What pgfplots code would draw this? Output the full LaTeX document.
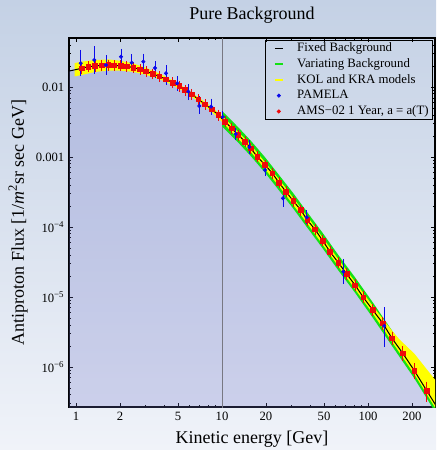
\documentclass[border=0pt]{standalone}
\usepackage{fontspec}
\setmainfont{Liberation Serif}
\usepackage{pgfplots}
\usepackage{pgfplotstable}
\pgfplotsset{compat=1.18}
\usetikzlibrary{backgrounds,calc}
\definecolor{bgtop}{RGB}{196,209,229}
\definecolor{bgbot}{RGB}{240,243,249}
\definecolor{fillc}{RGB}{110,115,200}
\definecolor{grn}{RGB}{20,225,20}
\definecolor{ylw}{RGB}{255,255,0}
\definecolor{pblue}{RGB}{10,10,235}
\definecolor{ared}{RGB}{240,10,10}
\definecolor{vline}{RGB}{120,120,130}

\pgfplotstableread{
x y
0.88 0.01675
1.094 0.01849
1.214 0.01950
1.349 0.01995
1.500 0.0204
1.664 0.0206
1.821 0.0204
2.024 0.0201
2.225 0.0198
2.469 0.0189
2.744 0.0179
3.017 0.01675
3.353 0.01535
3.721 0.01422
4.134 0.01288
4.596 0.01152
5.10 0.01033
5.58 0.00906
6.20 0.00787
6.88 0.00667
7.65 0.00566
8.50 0.00480
9.43 0.00398
10.48 0.00319
11.65 0.00257
12.93 0.00206
14.37 0.00166
15.73 0.00133
17.45 0.00101
19.71 7.69e-4
22.11 5.85e-4
24.57 4.30e-4
27.44 3.19e-4
30.79 2.35e-4
34.59 1.75e-4
38.39 1.259e-4
43.35 9.21e-5
48.95 6.37e-5
54.92 4.44e-5
62.60 3.09e-5
71.46 2.13e-5
81.47 1.48e-5
92.87 9.90e-6
107.7 6.52e-6
126.1 4.21e-6
146.0 2.57e-6
172.9 1.57e-6
207.6 8.85e-7
252.5 4.58e-7
300 2.57e-7
}\curvetab

\pgfplotstableread{
x y r
1.094 0.01849 0.09
1.214 0.01950 0.09
1.349 0.01995 0.09
1.500 0.0204 0.09
1.664 0.0206 0.09
1.821 0.0204 0.09
2.024 0.0201 0.09
2.225 0.0198 0.09
2.469 0.0189 0.09
2.744 0.0179 0.09
3.017 0.01675 0.09
3.353 0.01535 0.09
3.721 0.01422 0.09
4.134 0.01288 0.09
4.596 0.01152 0.09
5.10 0.01033 0.09
5.58 0.00906 0.09
6.20 0.00787 0.09
6.88 0.00667 0.09
7.65 0.00566 0.09
8.50 0.00480 0.09
9.43 0.00398 0.09
10.48 0.00319 0.09
11.65 0.00257 0.09
12.93 0.00206 0.09
14.37 0.00166 0.09
15.73 0.00133 0.09
17.45 0.00101 0.09
19.71 7.69e-4 0.09
22.11 5.85e-4 0.09
24.57 4.30e-4 0.09
27.44 3.19e-4 0.09
30.79 2.35e-4 0.09
34.59 1.75e-4 0.09
38.39 1.259e-4 0.09
43.35 9.21e-5 0.09
48.95 6.37e-5 0.09
54.92 4.44e-5 0.09
62.60 3.09e-5 0.09
71.46 2.13e-5 0.10
81.47 1.48e-5 0.11
92.87 9.90e-6 0.11
107.7 6.52e-6 0.11
126.1 4.21e-6 0.12
146.0 2.57e-6 0.13
172.9 1.57e-6 0.15
207.6 8.85e-7 0.18
252.5 4.58e-7 0.24
}\amstab

\pgfplotstableread{
x y ep em
1.077 0.02183 0.00907 0.00613
1.335 0.0243 0.0103 0.0072
1.605 0.0206 0.0051 0.00405
2.033 0.0271 0.0048 0.0041
2.407 0.0222 0.0044 0.0031
2.891 0.0230 0.0041 0.0035
3.476 0.0187 0.0026 0.0039
4.134 0.0157 0.0028 0.0038
4.94 0.01130 0.0016 0.00172
5.88 0.00857 0.00133 0.00144
6.99 0.00535 0.00132 0.00077
8.41 0.00524 0.00093 0.0008
10.11 0.00373 0.00038 0.00027
12.41 0.00213 0.00025 0.00022
15.38 0.00139 0.00021 0.00017
19.71 6.52e-4 7.4e-5 6.7e-5
26.17 2.57e-4 4.6e-5 4.4e-5
38.02 1.377e-4 1.93e-5 1.47e-5
67.72 2.30e-5 8.9e-6 6.1e-6
129.3 3.85e-6 2.67e-6 1.72e-6
}\pamtab

\begin{document}
\begin{tikzpicture}
\begin{axis}[name=ax, scale only axis, width=274.5pt, height=276.75pt,
  xmode=log, ymode=log,
  xmin=0.8956, xmax=287.6, ymin=2.68e-7, ymax=0.0501,
  xtick={1,2,5,10,20,50,100,200},
  xticklabels={1,2,5,10,20,50,100,200},
  minor xtick={3,4,6,7,8,9,30,40,60,70,80,90},
  ytick={1e-6,1e-5,1e-4,1e-3,1e-2},
  yticklabels={10\textsuperscript{−6},10\textsuperscript{−5},10\textsuperscript{−4},0.001,0.01},
  minor ytick={3e-7,4e-7,5e-7,6e-7,7e-7,8e-7,9e-7,
    2e-6,3e-6,4e-6,5e-6,6e-6,7e-6,8e-6,9e-6,
    2e-5,3e-5,4e-5,5e-5,6e-5,7e-5,8e-5,9e-5,
    2e-4,3e-4,4e-4,5e-4,6e-4,7e-4,8e-4,9e-4,
    2e-3,3e-3,4e-3,5e-3,6e-3,7e-3,8e-3,9e-3,
    2e-2,3e-2,4e-2},
  tick label style={font=\fontsize{9.5}{11}\selectfont},
  major tick length=3pt, minor tick length=1.6pt,
  every tick/.style={black, line width=0.5pt},
  axis line style={black, line width=0.8pt},
  title={Pure Background},
  title style={at={(axis description cs:0.5,1.0488)}, anchor=base, yshift=-6pt, font=\fontsize{13.5}{16}\selectfont},
  xlabel={Kinetic energy [Gev]},
  xlabel style={at={(axis description cs:0.5,-0.0976)}, anchor=base, font=\fontsize{13.5}{16}\selectfont},
  ylabel={Antiproton Flux [1/\textit{m}\textsuperscript{2}sr sec GeV]},
  ylabel style={at={(axis description cs:-0.1393,0.5)}, anchor=center, font=\fontsize{13.5}{16}\selectfont},
  legend cell align=left,
  legend style={at={(axis description cs:0.9945,0.9946)}, anchor=north east,
    draw=black, line width=0.6pt, fill=none, inner xsep=2pt, inner ysep=0.4pt,
    row sep=0.85pt, font=\fontsize{9.6}{11}\selectfont,
    nodes={inner sep=1pt, text height=7pt, text depth=2pt}},
]
% filled area under the curve
\addplot[forget plot, draw=none, fill=fillc, fill opacity=0.25] coordinates {
(0.88,0.01675) (1.094,0.01849) (1.349,0.01995) (1.664,0.0206) (2.024,0.0201) (2.469,0.0189)
(3.017,0.01675) (3.721,0.01422) (4.596,0.01152) (5.58,0.00906) (6.88,0.00667) (8.50,0.00480)
(10.48,0.00319) (12.93,0.00206) (15.73,0.00133) (19.71,7.69e-4) (24.57,4.30e-4) (30.79,2.35e-4)
(38.39,1.259e-4) (48.95,6.37e-5) (62.60,3.09e-5) (81.47,1.48e-5) (107.7,6.52e-6) (146.0,2.57e-6)
(207.6,8.85e-7) (252.5,4.58e-7) (300,2.57e-7) (300,1e-8) (0.88,1e-8)} -- cycle;
% vertical line at 10 GeV
\addplot[forget plot, color=vline, line width=0.6pt] coordinates {(10,1e-8) (10,1)};
% green band (variating background)
\addplot[forget plot, draw=none, fill=grn] coordinates {
(10,4.54e-3) (12.93,2.655e-3) (15.73,1.714e-3) (19.71,9.91e-4) (24.57,5.53e-4) (30.79,3.03e-4)
(38.39,1.622e-4) (48.95,8.20e-5) (62.60,3.98e-5) (81.47,1.910e-5) (107.7,8.39e-6) (146.0,3.31e-6)
(207.6,1.140e-6) (300,3.31e-7)
(300,2.00e-7) (207.6,6.87e-7) (146.0,2.00e-6) (107.7,5.06e-6) (81.47,1.151e-5) (62.60,2.40e-5)
(48.95,4.94e-5) (38.39,9.77e-5) (30.79,1.824e-4) (24.57,3.33e-4) (19.71,5.97e-4) (15.73,1.033e-3)
(12.93,1.600e-3) (10,2.735e-3)} -- cycle;
% yellow band (KOL and KRA)
\addplot[forget plot, draw=none, fill=ylw] coordinates {
(0.98,0.02193) (1.094,0.02301) (1.349,0.02427) (1.664,0.02477) (2.024,0.02366) (2.469,0.02168)
(3.017,0.01879) (3.721,0.01560) (4.596,0.01247) (5.58,0.00971) (6.88,0.00714) (8.50,0.00520)
(10.48,0.00354) (15.73,0.001493) (24.57,4.82e-4) (38.39,1.413e-4) (62.60,3.47e-5) (107.7,7.48e-6)
(146.0,3.30e-6) (165,2.45e-6) (207.6,1.55e-6) (300,5.9e-7)
(300,2.29e-7) (207.6,7.89e-7) (146.0,2.29e-6) (107.7,5.81e-6) (62.60,2.75e-5) (38.39,1.122e-4)
(24.57,3.83e-4) (15.73,1.186e-3) (10.48,2.88e-3) (8.50,4.43e-3) (6.88,6.22e-3) (5.58,8.45e-3)
(4.596,0.01062) (3.721,0.01297) (3.017,0.01493) (2.469,0.01644) (2.024,0.01714) (1.664,0.01714)
(1.349,0.01641) (1.094,0.01486) (0.98,0.01416)} -- cycle;
% fixed background curve
\addplot[forget plot, black, line width=0.75pt, smooth, tension=0.3] table[x=x,y=y] {\curvetab};
% AMS-02
\addplot[forget plot, only marks, mark=square*, mark size=1.7pt, color=ared,
  error bars/.cd, y dir=both, y explicit relative,
  error bar style={line width=0.7pt, ared},
  error mark=-, error mark options={mark size=2pt, line width=0.7pt, ared}]
  table[x=x, y=y, y error=r] {\amstab};
% PAMELA
\addplot[forget plot, only marks, mark=*, mark size=1.3pt, color=pblue,
  error bars/.cd, y dir=both, y explicit,
  error bar style={line width=0.7pt, pblue},
  error mark=-, error mark options={mark size=2.2pt, line width=0.7pt, pblue}]
  table[x=x, y=y, y error plus=ep, y error minus=em] {\pamtab};
% legend
\addlegendimage{legend image code/.code={\path (0pt,0pt) (20pt,0pt); \draw[black, line width=1pt] (4.5pt,0pt) -- (10.5pt,0pt);}}
\addlegendentry{Fixed Background}
\addlegendimage{legend image code/.code={\path (0pt,0pt) (20pt,0pt); \draw[grn, line width=1.1pt] (4.5pt,0pt) -- (10.5pt,0pt);}}
\addlegendentry{Variating Background}
\addlegendimage{legend image code/.code={\path (0pt,0pt) (20pt,0pt); \draw[ylw, line width=1.3pt] (4.5pt,0pt) -- (10.5pt,0pt);}}
\addlegendentry{KOL and KRA models}
\addlegendimage{legend image code/.code={\path (0pt,0pt) (20pt,0pt); \fill[pblue] (7.5pt,0pt) circle (1.2pt);}}
\addlegendentry{PAMELA}
\addlegendimage{legend image code/.code={\path (0pt,0pt) (20pt,0pt); \fill[ared] (7.5pt,0pt) circle (1.2pt);}}
\addlegendentry{AMS−02 1 Year, a = a(T)\hspace{9pt}}
\end{axis}
\begin{scope}[on background layer]
\pgfresetboundingbox
\shade[top color=bgtop, bottom color=bgbot] ($(ax.south west)+(-51.75pt,-32.25pt)$) rectangle ($(ax.north east)+(0.75pt,28.5pt)$);
\end{scope}
\end{tikzpicture}
\end{document}
